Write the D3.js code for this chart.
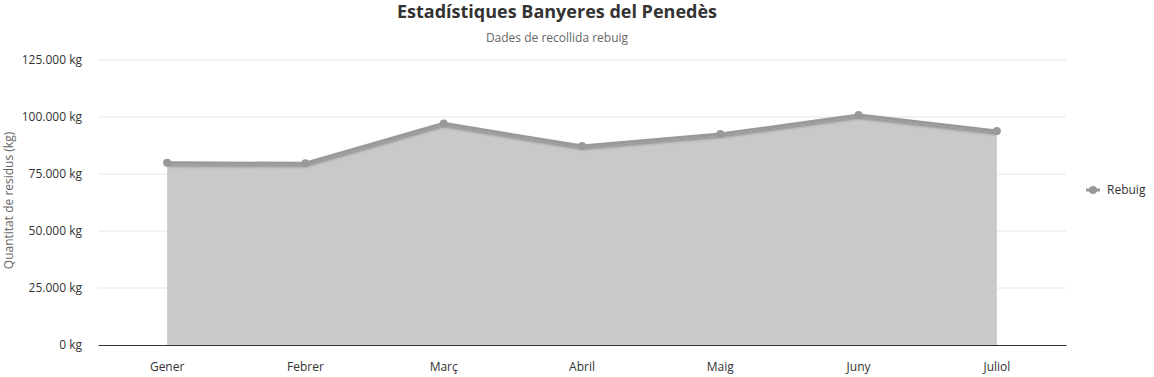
<!DOCTYPE html>
<html>
<head>
<meta charset="utf-8">
<script src="https://cdn.jsdelivr.net/npm/d3@7"></script>
<style>
  body { margin: 0; background: #fff; font-family: "Open Sans", "Noto Sans", sans-serif; }
  .grid line { stroke: #e6e6e6; }
  .tick text { fill: #333; font-size: 12px; }
</style>
</head>
<body>
<div id="chart"></div>
<script>
var months = ['Gener', 'Febrer', 'Març', 'Abril', 'Maig', 'Juny', 'Juliol'];
var rebuig = [79900, 79700, 97200, 87300, 92500, 100900, 93900];
var y_ticks = [0, 25000, 50000, 75000, 100000, 125000];

var w = 1154, h = 377,
    plot_left = 98, plot_right = 1066,
    plot_top = 60, plot_bottom = 345;

var svg = d3.select('#chart')
    .append('svg')
    .attr('width', w)
    .attr('height', h);

var defs = svg.append('defs');
var shadow = defs.append('filter')
    .attr('id', 'shadow')
    .attr('x', '-5%').attr('y', '-50%')
    .attr('width', '110%').attr('height', '200%');
shadow.append('feDropShadow')
    .attr('dx', 0).attr('dy', 2)
    .attr('stdDeviation', 1.5)
    .attr('flood-color', '#000')
    .attr('flood-opacity', 0.35);

var x = d3.scaleBand()
    .domain(months)
    .range([plot_left, plot_right]);

var y = d3.scaleLinear()
    .domain([0, 125000])
    .range([plot_bottom, plot_top]);

var fmt = function(v) {
  return d3.format(',')(v).replace(/,/g, '.') + ' kg';
};

// gridlines
svg.append('g')
    .attr('class', 'grid')
    .selectAll('line')
    .data(y_ticks.slice(1))
    .enter().append('line')
    .attr('x1', plot_left).attr('x2', plot_right)
    .attr('y1', function(d) { return y(d); })
    .attr('y2', function(d) { return y(d); });

var cx = function(d, i) { return x(months[i]) + x.bandwidth()/2; };

var area = d3.area()
    .x(cx)
    .y0(y(0))
    .y1(function(d) { return y(d); });

var line = d3.line()
    .x(cx)
    .y(function(d) { return y(d); });

svg.append('path')
    .datum(rebuig)
    .attr('d', area)
    .attr('fill', '#c9c9c9');

svg.append('path')
    .datum(rebuig)
    .attr('d', line)
    .attr('fill', 'none')
    .attr('stroke', '#999')
    .attr('stroke-width', 3)
    .attr('filter', 'url(#shadow)');

svg.selectAll('.pt')
    .data(rebuig)
    .enter().append('circle')
    .attr('class', 'pt')
    .attr('cx', cx)
    .attr('cy', function(d) { return y(d); })
    .attr('r', 4)
    .attr('fill', '#999');

// y axis labels
var ya = svg.append('g')
    .attr('transform', 'translate(' + plot_left + ',0)')
    .call(d3.axisLeft(y).tickValues(y_ticks).tickFormat(fmt).tickSize(0).tickPadding(16));
ya.select('.domain').remove();
ya.selectAll('text').attr('font-family', '"Open Sans", sans-serif');

// x axis
var xa = svg.append('g')
    .attr('transform', 'translate(0,' + plot_bottom + ')')
    .call(d3.axisBottom(x).tickSize(0).tickPadding(17));
xa.select('.domain').attr('stroke', '#333').attr('stroke-width', 1);
xa.selectAll('text').attr('font-family', '"Open Sans", sans-serif');

svg.append('text')
    .attr('transform', 'translate(13,' + ((plot_top + plot_bottom)/2 - 2) + ') rotate(-90)')
    .attr('text-anchor', 'middle')
    .attr('font-size', 12)
    .attr('fill', '#666')
    .text('Quantitat de residus (kg)');

svg.append('text')
    .attr('x', w/2 - 20)
    .attr('y', 18)
    .attr('text-anchor', 'middle')
    .attr('font-size', 18)
    .attr('font-weight', 'bold')
    .attr('fill', '#333')
    .text('Estadístiques Banyeres del Penedès');

svg.append('text')
    .attr('x', w/2 - 20)
    .attr('y', 42)
    .attr('text-anchor', 'middle')
    .attr('font-size', 12)
    .attr('fill', '#666')
    .text('Dades de recollida rebuig');

// legend
var lg = svg.append('g').attr('transform', 'translate(1086,190)');
lg.append('line')
    .attr('x1', 0).attr('x2', 14)
    .attr('stroke', '#999').attr('stroke-width', 3);
lg.append('circle')
    .attr('cx', 7).attr('r', 4)
    .attr('fill', '#999');
lg.append('text')
    .attr('x', 21).attr('y', 4)
    .attr('font-size', 12)
    .attr('fill', '#333')
    .text('Rebuig');
</script>
</body>
</html>
